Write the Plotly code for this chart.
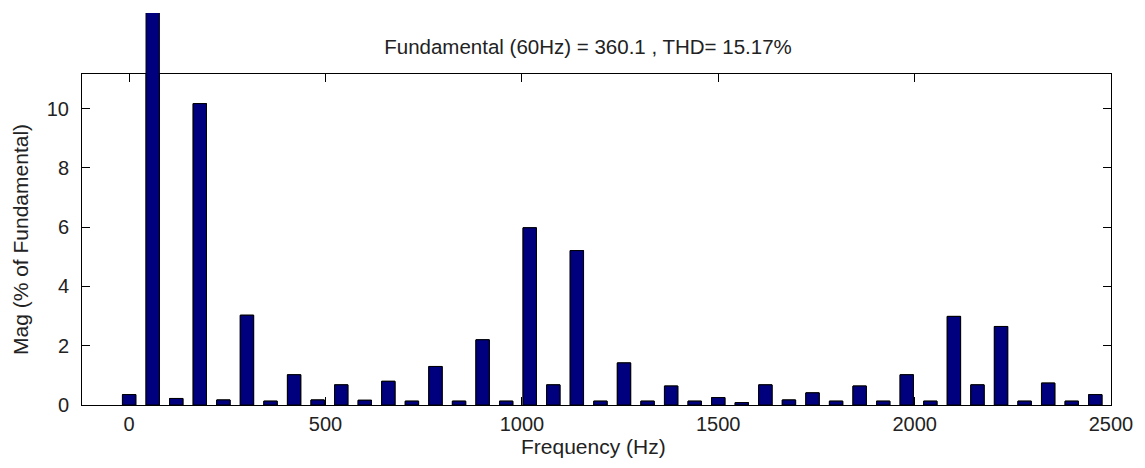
import plotly.graph_objects as go

# Harmonic frequencies (Hz) and magnitudes (% of fundamental)
freq_hz = [0, 60, 120, 180, 240, 300, 360, 420, 480, 540, 600, 660, 720, 780,
           840, 900, 960, 1020, 1080, 1140, 1200, 1260, 1320, 1380, 1440, 1500,
           1560, 1620, 1680, 1740, 1800, 1860, 1920, 1980, 2040, 2100, 2160,
           2220, 2280, 2340, 2400, 2460]
mag_pct = [0.35, 100.0, 0.22, 10.17, 0.17, 3.03, 0.13, 1.02, 0.17, 0.68, 0.16,
           0.80, 0.13, 1.30, 0.13, 2.20, 0.13, 5.98, 0.68, 5.21, 0.13, 1.42,
           0.13, 0.64, 0.13, 0.25, 0.08, 0.68, 0.17, 0.41, 0.13, 0.64, 0.13,
           1.02, 0.13, 2.99, 0.68, 2.65, 0.13, 0.74, 0.13, 0.35]
x_ticks = [0, 500, 1000, 1500, 2000, 2500]
y_ticks = [0, 2, 4, 6, 8, 10]
title_text = "Fundamental (60Hz) = 360.1 , THD= 15.17%"
x_label = "Frequency (Hz)"
y_label = "Mag (% of Fundamental)"

W, H = 1145, 468
ML, MR, MT, MB = 81.5, 34, 13, 63
frame_top_px = 74
plot_h = H - MT - MB
frame_frac = (H - MB - frame_top_px) / plot_h
y_max = 11.17

FONT = "Liberation Sans, Arial, sans-serif"
TXT = "#222222"
bar_style = dict(color="#00007f", line=dict(color="#000000", width=1))

fig = go.Figure()
# bars inside the axes frame
fig.add_trace(go.Bar(x=freq_hz, y=mag_pct, width=34, marker=bar_style,
                     xaxis="x", yaxis="y", showlegend=False, hoverinfo="x+y"))
# same bars on a taller, identically scaled layer so the fundamental overflows the frame
fig.add_trace(go.Bar(x=freq_hz, y=mag_pct, width=34, marker=bar_style,
                     xaxis="x", yaxis="y2", showlegend=False, hoverinfo="skip"))

fig.update_layout(
    width=W, height=H,
    margin=dict(l=ML, r=MR, t=MT, b=MB, pad=0),
    paper_bgcolor="white", plot_bgcolor="rgba(0,0,0,0)",
    font=dict(family=FONT, size=20, color=TXT),
    title=dict(text=title_text, x=588 / W, xref="container", xanchor="center",
               y=1 - 47 / H, yref="container", yanchor="middle",
               font=dict(family=FONT, size=20.5, color=TXT)),
    xaxis=dict(range=[-120, 2500], tickvals=x_ticks, ticks="inside", ticklen=8,
               tickcolor="black", showline=True, linecolor="black", linewidth=1,
               mirror="ticks", showgrid=False, zeroline=False,
               anchor="y", ticklabelstandoff=1),
    yaxis=dict(domain=[0, frame_frac], range=[0, y_max], tickvals=y_ticks,
               ticks="inside", ticklen=8, tickcolor="black", showline=True,
               linecolor="black", linewidth=1, mirror="ticks", showgrid=False,
               zeroline=False, anchor="x", ticklabelstandoff=8,
               title=dict(text=y_label, standoff=12, font=dict(size=21))),
    yaxis2=dict(domain=[0, 1], range=[0, y_max / frame_frac], visible=False,
                anchor="x", showgrid=False, zeroline=False),
    annotations=[dict(text=x_label, xref="paper", yref="paper",
                      x=(593.5 - ML) / (W - ML - MR), y=-(446 - (H - MB)) / plot_h,
                      xanchor="center", yanchor="middle", showarrow=False,
                      font=dict(family=FONT, size=21, color=TXT))],
)

fig.write_html("out.html")
